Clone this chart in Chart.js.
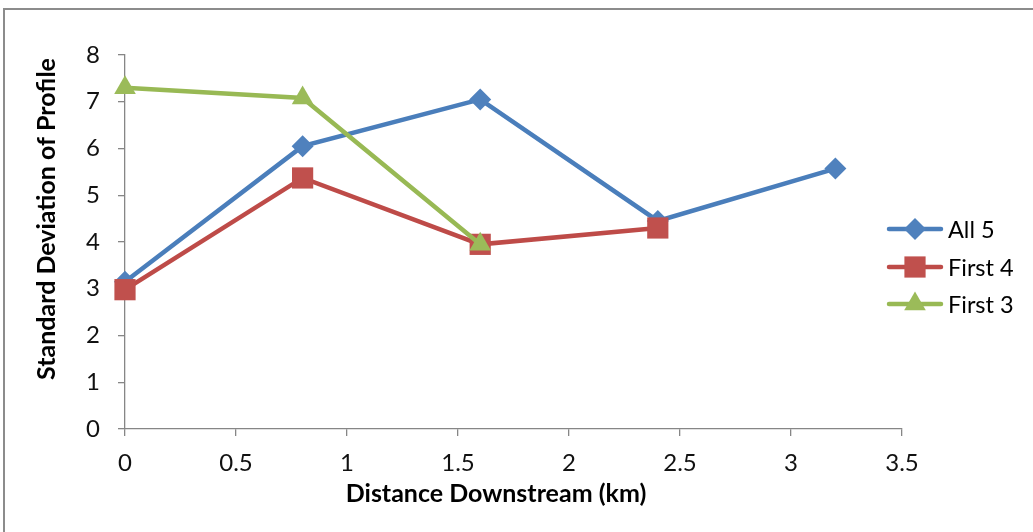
<!DOCTYPE html>
<html>
<head>
<meta charset="utf-8">
<script src="https://cdn.jsdelivr.net/npm/chart.js@4/dist/chart.umd.min.js"></script>
<style>
  html, body { margin: 0; padding: 0; background: #fff; overflow: hidden; }
  #wrap { position: relative; width: 1033px; height: 532px; }
  #frame { position: absolute; left: 3px; top: 8px; width: 1100px; height: 600px; border: 2px solid #8c8c8c; box-sizing: border-box; }
  canvas { position: absolute; left: 0; top: 0; }
</style>
</head>
<body>
<div id="wrap">
  <div id="frame"></div>
  <canvas id="chart" width="1033" height="532"></canvas>
</div>
<script>
// distance downstream (km) for each station
const distances = [0, 0.8, 1.6, 2.4, 3.2];

// standard deviation of profile
const all5 = [3.15, 6.05, 7.05, 4.45, 5.57];
const first4 = [2.98, 5.37, 3.95, 4.3];
const first3 = [7.3, 7.08, 3.95];

const seriesNames = ["All 5", "First 4", "First 3"];
const xTicks = [0, 0.5, 1, 1.5, 2, 2.5, 3, 3.5];
const yTicks = [0, 1, 2, 3, 4, 5, 6, 7, 8];

const xTitle = "Distance Downstream (km)";
const yTitle = "Standard Deviation of Profile";

const FONT = "Lato, 'Open Sans', sans-serif";

function toPoints(values) {
  return values.map((v, i) => ({ x: distances[i], y: v }));
}

const styles = [
  { line: "#4a7ebb", fill: "#4f81bd", point: "rectRot", radius: 11 },
  { line: "#be4b48", fill: "#c0504d", point: "rect", radius: 15 },
  { line: "#98b954", fill: "#9bbb59", point: "triangle", radius: 12.5 }
];

const seriesData = [all5, first4, first3];

const datasets = seriesData.map((vals, i) => ({
  label: seriesNames[i],
  data: toPoints(vals),
  showLine: true,
  borderColor: styles[i].line,
  borderWidth: 4.5,
  backgroundColor: styles[i].fill,
  pointStyle: styles[i].point,
  pointRadius: styles[i].radius,
  pointHoverRadius: styles[i].radius,
  pointBorderWidth: 0,
  pointBackgroundColor: styles[i].fill,
  pointBorderColor: styles[i].fill,
  clip: false,
  order: 3 - i
}));

// axis titles + legend drawn by hand (Excel style)
const decorations = {
  id: "decorations",
  afterDraw(chart) {
    const ctx = chart.ctx;
    ctx.save();
    ctx.fillStyle = "#000";
    ctx.font = "bold 25px " + FONT;
    ctx.textAlign = "center";
    ctx.textBaseline = "middle";
    ctx.fillText(xTitle, 496, 494);

    ctx.translate(47, 219);
    ctx.rotate(-Math.PI / 2);
    ctx.fillText(yTitle, 0, 0);
    ctx.restore();

    // legend
    const legendY = [229, 267, 304];
    ctx.save();
    styles.forEach((s, i) => {
      const y = legendY[i];
      ctx.strokeStyle = s.line;
      ctx.lineWidth = 4.5;
      ctx.lineCap = "round";
      ctx.beginPath();
      ctx.moveTo(889, y);
      ctx.lineTo(941, y);
      ctx.stroke();
      ctx.fillStyle = s.fill;
      ctx.strokeStyle = s.fill;
      ctx.lineWidth = 0;
      Chart.helpers.drawPoint(ctx, { pointStyle: s.point, radius: s.radius, borderWidth: 0, rotation: 0 }, 915, y);
      ctx.fillStyle = "#000";
      ctx.font = "23.5px " + FONT;
      ctx.textAlign = "left";
      ctx.textBaseline = "middle";
      ctx.fillText(seriesNames[i], 948, y + 1);
    });
    ctx.restore();
  }
};

new Chart(document.getElementById("chart"), {
  type: "scatter",
  data: { datasets: datasets },
  plugins: [decorations],
  options: {
    responsive: false,
    animation: false,
    layout: { padding: { top: 55, right: 131, left: 0, bottom: 0 } },
    plugins: {
      legend: { display: false },
      tooltip: { enabled: false }
    },
    scales: {
      x: {
        type: "linear",
        min: 0,
        max: 3.5,
        afterFit: s => { s.height = 103; },
        afterBuildTicks: s => { s.ticks = xTicks.map(v => ({ value: v })); },
        grid: { drawOnChartArea: false, drawTicks: true, tickLength: 7, color: "#868686", lineWidth: 1.3 },
        border: { color: "#868686", width: 1.3 },
        ticks: { color: "#111", font: { family: FONT, size: 24 }, padding: 13, maxRotation: 0, callback: v => String(v) }
      },
      y: {
        type: "linear",
        min: 0,
        max: 8,
        afterFit: s => { s.width = 125; },
        afterBuildTicks: s => { s.ticks = yTicks.map(v => ({ value: v })); },
        grid: { drawOnChartArea: false, drawTicks: true, tickLength: 7, color: "#868686", lineWidth: 1.3 },
        border: { color: "#868686", width: 1.3 },
        ticks: { color: "#111", font: { family: FONT, size: 24 }, padding: 18, callback: v => String(v) }
      }
    }
  }
});
</script>
</body>
</html>
